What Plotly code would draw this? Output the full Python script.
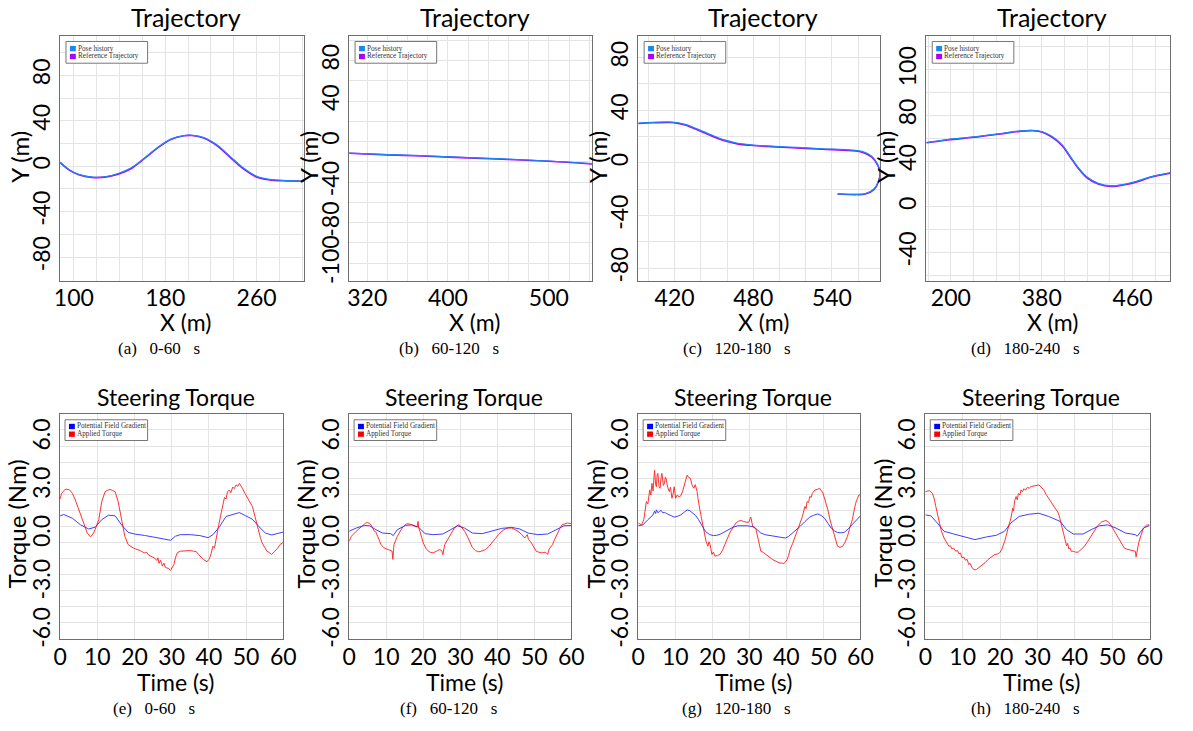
import plotly.graph_objects as go

FIG_W, FIG_H = 1193, 731

# ---------------- trajectory data (metres) ----------------
POSE_A_X = [88.0, 95.7, 104.3, 115.8, 127.3, 138.8, 150.4, 161.9, 173.4, 184.9,
            196.4, 203.6, 213.7, 225.2, 236.7, 248.2, 259.7, 271.2, 282.7, 301.4]
POSE_A_Y = [3.5, -2.9, -7.2, -9.6, -9.3, -6.4, -1.4, 7.2, 16.5, 23.8,
            27.0, 27.2, 25.2, 18.8, 8.7, -1.4, -8.7, -11.6, -12.5, -13.0]
REF_A_Y = [3.3, -3.2, -7.5, -9.8, -9.6, -7.0, -2.0, 6.8, 16.2, 23.6,
           26.8, 27.0, 24.8, 18.2, 8.0, -2.2, -9.4, -12.0, -12.8, -13.2]

POSE_B_X = [302.1, 340.0, 380.0, 420.0, 460.0, 500.0, 542.8]
POSE_B_Y = [-11.4, -12.8, -14.2, -15.8, -17.4, -19.2, -21.8]
REF_B_Y = [-11.6, -13.1, -14.5, -16.1, -17.7, -19.5, -22.1]

POSE_C_X = [392.3, 403.0, 418.0, 428.0, 438.0, 448.0, 458.0, 468.0, 478.0, 493.0,
            513.0, 533.0, 553.0, 563.0, 570.5, 575.0, 576.7, 575.5, 571.8, 565.5,
            558.0, 544.3]
POSE_C_Y = [30.3, 30.8, 31.0, 29.3, 25.5, 21.3, 17.5, 15.0, 13.8, 12.8,
            11.8, 10.8, 10.0, 8.8, 5.0, -1.3, -6.3, -13.8, -20.0, -23.3,
            -23.8, -23.5]
REF_C_Y = [30.0, 30.5, 30.7, 28.8, 24.9, 20.6, 16.9, 14.5, 13.4, 12.4,
           11.4, 10.4, 9.5, 8.2, 4.4, -1.8, -6.8, -14.2, -20.5, -23.6,
           -24.0, -23.6]

POSE_D_X = [278.4, 297.1, 320.2, 343.2, 360.5, 372.0, 380.7, 389.3, 398.0, 405.2,
            412.4, 419.6, 429.7, 441.2, 452.7, 464.3, 475.8, 493.1]
POSE_D_Y = [56.2, 58.8, 61.1, 64.0, 66.3, 66.9, 65.7, 61.4, 54.2, 44.1,
            34.0, 26.2, 20.5, 18.2, 19.6, 22.5, 26.2, 29.7]
REF_D_Y = [56.0, 58.5, 60.8, 63.7, 66.0, 66.6, 65.3, 60.8, 53.5, 43.4,
           33.3, 25.6, 20.0, 17.8, 19.2, 22.0, 25.8, 29.4]

# ---------------- steering torque data (time s, torque Nm) ----------------
E_GRADIENT = [(0.0, 0.66), (1.0, 0.74), (3.3, 0.51), (5.5, 0.10), (7.7, -0.16), (9.5, -0.04),
              (11.2, 0.42), (13.0, 0.70), (14.8, 0.66), (16.5, 0.10), (18.3, -0.37), (20.0, -0.47),
              (22.7, -0.56), (25.3, -0.65), (27.9, -0.78), (29.7, -0.86), (31.0, -0.61), (32.3, -0.51),
              (35.0, -0.51), (37.6, -0.57), (39.8, -0.70), (41.1, -0.51), (42.9, 0.00), (44.6, 0.62),
              (47.3, 0.82), (48.2, 0.86), (49.9, 0.66), (51.7, 0.45), (53.4, 0.00), (55.2, -0.41),
              (56.9, -0.53), (58.7, -0.45), (60.0, -0.35)]
E_APPLIED = [(0.0, 1.70), (0.4, 2.05), (1.1, 2.25), (1.6, 2.32), (2.5, 2.28), (3.3, 2.06), (4.0, 1.70),
             (4.7, 1.24), (5.4, 0.82), (6.0, 0.42), (6.7, 0.02), (7.3, -0.41), (8.2, -0.65), (9.0, -0.41),
             (9.7, -0.02), (10.4, 0.42), (11.2, 1.55), (12.1, 2.16), (12.8, 2.25), (13.4, 2.30),
             (14.1, 2.24), (14.8, 2.16), (15.6, 1.55), (16.5, 0.42), (17.4, -0.61), (18.3, -1.13),
             (19.0, -1.25), (19.6, -1.33), (20.3, -1.40), (20.9, -1.44), (21.5, -1.50), (22.1, -1.58),
             (22.7, -1.64), (23.3, -1.62), (23.8, -1.78), (24.4, -1.85), (25.0, -1.92), (25.5, -1.98),
             (26.0, -2.12), (26.3, -1.95), (26.6, -2.30), (27.0, -2.10), (27.5, -2.47), (27.9, -2.28),
             (28.3, -2.55), (28.8, -2.57), (29.2, -2.62), (29.7, -2.73), (30.2, -2.55), (30.6, -2.36),
             (31.0, -1.95), (31.5, -1.64), (32.3, -1.54), (33.2, -1.52), (34.1, -1.50), (35.0, -1.50),
             (35.9, -1.54), (36.6, -1.56), (37.2, -1.74), (37.9, -1.90), (38.5, -2.05), (39.5, -2.20),
             (40.0, -2.05), (40.4, -1.85), (41.1, -1.23), (41.5, -1.35), (42.0, -0.61), (42.6, 0.05),
             (43.3, 0.83), (43.8, 1.45), (44.2, 1.81), (44.6, 1.70), (45.0, 2.15), (45.5, 2.27),
             (45.9, 2.10), (46.4, 2.45), (46.8, 2.35), (47.3, 2.58), (47.8, 2.50), (48.2, 2.68),
             (48.6, 2.55), (49.0, 2.37), (49.7, 2.05), (50.4, 1.75), (51.0, 1.45), (51.7, 1.24),
             (52.5, 0.52), (53.0, 0.05), (53.4, -0.41), (53.9, -0.75), (54.3, -1.02), (54.8, -1.25),
             (55.2, -1.35), (55.6, -1.54), (56.2, -1.62), (56.8, -1.74), (57.3, -1.65), (57.8, -1.54),
             (58.5, -1.35), (59.1, -1.13), (60.0, -0.99)]

F_GRADIENT = [(0.0, -0.30), (1.9, -0.10), (4.1, 0.06), (5.5, 0.04), (7.2, -0.20), (9.0, -0.41),
              (11.2, -0.45), (11.9, -0.57), (13.0, -0.20), (15.2, 0.06), (16.9, 0.10), (18.7, -0.04),
              (20.5, -0.45), (22.7, -0.51), (25.3, -0.47), (27.1, -0.24), (29.3, 0.04), (31.1, -0.10),
              (33.3, -0.41), (35.9, -0.45), (38.6, -0.30), (41.2, -0.12), (43.9, -0.06), (46.1, -0.16),
              (48.3, -0.41), (50.9, -0.51), (53.6, -0.47), (55.8, -0.24), (58.0, 0.04), (60.0, 0.06)]
F_APPLIED = [(0.0, -0.92), (0.6, -0.61), (1.9, -0.30), (2.8, -0.10), (3.7, 0.10), (4.4, 0.20), (5.0, 0.25),
             (5.9, 0.10), (6.8, -0.30), (7.2, -0.35), (7.7, -0.61), (8.2, -0.85), (8.6, -1.13),
             (9.4, -1.33), (10.1, -1.40), (10.8, -1.44), (11.6, -1.54), (11.8, -2.05), (12.1, -1.13),
             (13.0, -0.61), (14.3, -0.10), (15.0, 0.08), (15.6, 0.17), (16.3, 0.15), (16.9, 0.10),
             (17.6, 0.05), (18.3, -0.04), (18.6, 0.32), (18.8, -0.10), (19.1, -0.30), (20.0, -1.02),
             (20.7, -1.35), (21.4, -1.54), (22.0, -1.62), (22.7, -1.64), (23.5, -1.55), (24.4, -1.44),
             (25.0, -1.50), (25.3, -1.76), (25.8, -1.13), (26.4, -0.90), (27.1, -0.61), (27.8, -0.35),
             (28.4, -0.10), (29.0, 0.02), (29.6, 0.10), (30.1, 0.02), (30.6, -0.10), (31.2, -0.30),
             (31.9, -0.61), (32.6, -0.98), (33.3, -1.33), (34.1, -1.50), (35.0, -1.58), (35.9, -1.52),
             (36.8, -1.44), (37.7, -1.25), (38.6, -1.02), (39.5, -0.75), (40.3, -0.51), (41.2, -0.30),
             (42.1, -0.16), (43.0, -0.10), (43.9, -0.10), (44.8, -0.18), (45.6, -0.30), (46.5, -0.48),
             (47.4, -0.72), (48.1, -0.51), (48.4, -0.80), (49.2, -1.02), (49.9, -1.30), (50.5, -1.54),
             (51.4, -1.62), (52.2, -1.64), (53.0, -1.60), (53.6, -1.74), (54.0, -1.40), (54.9, -1.13),
             (55.5, -0.80), (56.2, -0.41), (56.9, -0.12), (57.5, 0.10), (58.2, 0.18), (58.9, 0.21),
             (60.0, 0.17)]

G_GRADIENT = [(0.0, 0.04), (1.3, 0.10), (2.6, 0.42), (3.3, 0.55), (4.0, 0.72), (4.4, 0.95), (4.7, 0.80),
              (4.9, 1.03), (5.3, 0.85), (5.7, 0.93), (6.2, 1.00), (6.6, 0.85), (7.1, 0.87), (7.7, 0.80),
              (8.4, 0.72), (9.1, 0.62), (9.7, 0.58), (10.5, 0.62), (11.5, 0.72), (12.4, 0.88),
              (13.2, 1.03), (13.9, 0.98), (14.6, 0.87), (15.5, 0.68), (16.3, 0.42), (17.2, 0.05),
              (18.1, -0.30), (19.2, -0.50), (20.3, -0.57), (21.2, -0.55), (22.1, -0.49), (23.2, -0.35),
              (24.3, -0.20), (25.6, -0.05), (26.9, 0.04), (28.3, 0.05), (29.6, 0.04), (30.5, 0.00),
              (31.3, -0.04), (32.2, -0.22), (33.1, -0.41), (34.4, -0.52), (35.7, -0.57), (36.9, -0.61),
              (38.0, -0.65), (39.0, -0.69), (39.7, -0.72), (40.6, -0.62), (41.5, -0.45), (42.6, -0.22),
              (43.7, 0.00), (45.0, 0.30), (46.3, 0.58), (47.4, 0.70), (48.5, 0.78), (49.4, 0.68),
              (50.3, 0.51), (51.2, 0.20), (52.1, -0.10), (53.0, -0.28), (53.8, -0.37), (54.7, -0.40),
              (55.6, -0.37), (56.7, -0.15), (57.8, 0.10), (58.9, 0.38), (60.0, 0.66)]
G_APPLIED = [(0.0, 0.21), (0.9, 0.10), (1.5, 0.42), (1.9, 0.95), (2.2, 1.55), (2.6, 1.40), (3.1, 2.27),
             (3.4, 1.95), (3.7, 2.68), (4.0, 2.20), (4.4, 3.50), (4.7, 2.60), (4.9, 2.47), (5.1, 3.20),
             (5.3, 3.30), (5.6, 2.50), (5.9, 2.37), (6.2, 3.10), (6.4, 3.30), (6.8, 2.55), (7.1, 2.68),
             (7.3, 3.05), (7.5, 2.99), (8.0, 2.40), (8.4, 2.16), (8.7, 2.45), (9.1, 1.75), (9.4, 2.00),
             (9.7, 2.47), (10.1, 1.75), (10.5, 1.95), (11.0, 1.85), (11.5, 1.90), (12.0, 2.20),
             (12.4, 2.58), (12.8, 2.90), (13.2, 3.19), (13.6, 3.05), (14.1, 2.99), (14.5, 2.60),
             (15.0, 2.37), (15.4, 2.60), (15.9, 2.16), (16.1, 1.80), (16.3, 1.34), (16.6, 1.10),
             (17.0, 0.62), (17.7, -0.20), (18.3, -0.92), (18.8, -1.23), (19.1, -0.95), (19.4, -1.13),
             (19.9, -1.74), (20.3, -1.60), (20.7, -1.85), (21.4, -1.80), (22.1, -1.74), (22.8, -1.45),
             (23.4, -1.13), (24.0, -0.75), (24.7, -0.41), (25.6, -0.05), (26.5, 0.25), (27.1, 0.33),
             (27.8, 0.37), (28.5, 0.30), (29.1, 0.27), (29.8, 0.25), (30.4, 0.58), (30.7, 0.10),
             (30.9, 0.00), (31.3, -0.05), (31.8, -0.20), (32.4, -0.80), (33.1, -1.54), (33.8, -1.62),
             (34.4, -1.74), (35.3, -1.90), (36.2, -2.05), (37.1, -2.15), (38.0, -2.26), (38.7, -2.28),
             (39.3, -2.30), (39.8, -2.20), (40.2, -2.05), (40.6, -1.80), (41.0, -1.44), (41.7, -1.05),
             (42.4, -0.61), (43.0, -0.25), (43.7, 0.10), (44.3, 0.60), (45.0, 1.24), (45.3, 1.10),
             (45.6, 1.55), (46.0, 1.50), (46.3, 1.86), (46.7, 1.80), (47.0, 2.05), (47.7, 2.27),
             (48.3, 2.30), (49.0, 2.37), (49.9, 2.06), (50.5, 1.60), (51.2, 1.03), (51.8, 0.40),
             (52.5, -0.20), (53.1, -0.75), (53.8, -1.23), (54.5, -1.30), (55.2, -1.23), (55.8, -1.00),
             (56.5, -0.61), (57.1, -0.10), (57.8, 0.42), (58.3, 1.00), (58.7, 1.44), (59.2, 1.75),
             (59.6, 1.96), (60.0, 1.96)]

H_GRADIENT = [(0.0, 0.72), (1.5, 0.66), (3.2, 0.21), (5.0, -0.30), (7.6, -0.47), (10.2, -0.65),
              (13.3, -0.82), (16.4, -0.65), (19.0, -0.55), (21.2, -0.30), (22.9, 0.21), (25.1, 0.62),
              (27.8, 0.76), (30.4, 0.82), (33.0, 0.62), (36.1, 0.31), (37.8, -0.20), (39.6, -0.47),
              (42.2, -0.47), (44.4, -0.20), (46.6, 0.04), (48.8, 0.10), (51.0, -0.10), (53.6, -0.41),
              (56.2, -0.51), (56.7, -0.61), (58.4, -0.10), (60.0, 0.06)]
H_APPLIED = [(0.0, 2.16), (0.5, 2.20), (1.1, 2.23), (1.9, 2.06), (2.4, 1.70), (2.8, 1.24), (3.3, 0.70),
             (3.7, 0.21), (4.3, -0.30), (5.0, -0.72), (5.4, -0.90), (5.8, -1.05), (6.3, -1.23),
             (6.7, -1.20), (7.1, -1.40), (7.6, -1.35), (8.1, -1.54), (8.6, -1.50), (9.0, -1.70),
             (9.4, -1.65), (9.8, -1.95), (10.3, -1.90), (10.7, -2.10), (11.2, -2.05), (11.6, -2.36),
             (12.0, -2.30), (12.4, -2.52), (12.9, -2.67), (13.3, -2.70), (13.7, -2.67), (14.4, -2.55),
             (15.1, -2.42), (16.0, -2.25), (16.8, -2.05), (17.7, -1.90), (18.6, -1.74), (19.2, -1.72),
             (19.9, -1.64), (20.4, -1.45), (20.8, -1.23), (21.2, -0.95), (21.6, -0.61), (22.0, -0.20),
             (22.5, 0.21), (22.8, 0.40), (23.1, 0.95), (23.4, 1.14), (23.6, 0.95), (23.9, 1.60),
             (24.3, 1.86), (24.6, 1.65), (24.9, 2.05), (25.3, 1.95), (25.6, 2.27), (26.0, 2.15),
             (26.4, 2.35), (26.8, 2.25), (27.3, 2.43), (27.8, 2.38), (28.3, 2.48), (29.1, 2.51),
             (29.8, 2.55), (30.4, 2.58), (31.0, 2.45), (31.7, 2.27), (32.3, 2.00), (33.0, 1.75),
             (33.6, 1.50), (34.3, 1.24), (35.0, 1.05), (35.6, 0.83), (36.0, 0.50), (36.5, 0.10),
             (37.0, -0.45), (37.4, -0.82), (37.8, -1.20), (38.1, -1.05), (38.4, -1.40), (38.7, -1.33),
             (39.1, -1.55), (39.6, -1.54), (40.2, -1.60), (40.9, -1.60), (41.7, -1.45), (42.6, -1.23),
             (43.5, -0.92), (44.4, -0.61), (45.2, -0.28), (46.1, 0.04), (47.2, 0.28), (48.3, 0.37),
             (49.0, 0.28), (49.6, 0.10), (50.5, -0.25), (51.4, -0.61), (52.3, -1.00), (53.2, -1.33),
             (54.0, -1.42), (54.9, -1.48), (55.5, -1.50), (56.2, -1.54), (56.4, -1.91), (56.7, -1.45),
             (57.1, -1.02), (57.7, -0.55), (58.4, -0.10), (59.2, 0.08), (60.0, 0.10)]

# ---------------- axis ticks ----------------
TORQUE_TICKS = {-6: "-6.0", -3: "-3.0", 0: "0.0", 3: "3.0", 6: "6.0"}
TIME_TICKS = {0: "0", 10: "10", 20: "20", 30: "30", 40: "40", 50: "50", 60: "60"}

TOP_PANELS = [
    dict(pose=(POSE_A_X, POSE_A_Y), ref=(POSE_A_X, REF_A_Y),
         xlabels={100: "100", 180: "180", 260: "260"},
         ylabels={-80: "-80", -40: "-40", 0: "0", 40: "40", 80: "80"},
         caption="(a)\u2002\u00a00-60\u2002\u00a0s"),
    dict(pose=(POSE_B_X, POSE_B_Y), ref=(POSE_B_X, REF_B_Y),
         xlabels={320: "320", 400: "400", 500: "500"},
         ylabels={-120: "-100", -80: "-80", -40: "-40", 0: "0", 40: "40", 80: "80"},
         caption="(b)\u2002\u00a060-120\u2002\u00a0s"),
    dict(pose=(POSE_C_X, POSE_C_Y), ref=(POSE_C_X, REF_C_Y),
         xlabels={420: "420", 480: "480", 540: "540"},
         ylabels={-80: "-80", -40: "-40", 0: "0", 40: "40", 80: "80"},
         caption="(c)\u2002\u00a0120-180\u2002\u00a0s"),
    dict(pose=(POSE_D_X, POSE_D_Y), ref=(POSE_D_X, REF_D_Y),
         xlabels={300: "200", 380: "380", 460: "460"},
         ylabels={-40: "-40", 0: "0", 40: "40", 80: "80", 120: "100"},
         caption="(d)\u2002\u00a0180-240\u2002\u00a0s"),
]
BOTTOM_PANELS = [
    dict(grad=E_GRADIENT, applied=E_APPLIED, caption="(e)\u2002\u00a00-60\u2002\u00a0s"),
    dict(grad=F_GRADIENT, applied=F_APPLIED, caption="(f)\u2002\u00a060-120\u2002\u00a0s"),
    dict(grad=G_GRADIENT, applied=G_APPLIED, caption="(g)\u2002\u00a0120-180\u2002\u00a0s"),
    dict(grad=H_GRADIENT, applied=H_APPLIED, caption="(h)\u2002\u00a0180-240\u2002\u00a0s"),
]

# ---------------- layout geometry (pixels) ----------------
TOP_X_PX = [(54, 302), (348, 595), (642, 888), (935, 1183)]
TOP_RANGES = [((88, 301.4), (-100.6, 115)), ((302.1, 542.8), (-137.2, 104.7)),
              ((392.25, 576.75), (-89.25, 96.75)), ((278.4, 493.1), (-64.6, 149.9))]
TOP_Y_PX = (36, 284)
BOT_X_PX = [(54, 281), (348, 574), (642, 868), (934, 1162)]
BOT_Y_PX = (419, 647)
TOP_CAPTION_X = [155, 450, 742, 1036]
BOT_CAPTION_X = [150, 449, 742, 1036]

SANS = "Lato, 'Open Sans', sans-serif"
SERIF = "'Liberation Serif', 'DejaVu Serif', serif"
GRID = "#e4e4e4"
FRAME = "#6e6e6e"
POSE_COLOR = "#1a86f5"
REF_COLOR = "#aa00ff"
GRAD_COLOR = "#0000ff"
APPLIED_COLOR = "#ff0000"


def px_x(p):
    return p / FIG_W


def px_y(p):
    return 1 - p / FIG_H


def grid_ticks(lo, hi, step, labels):
    vals = []
    v = lo
    while v <= hi + 1e-9:
        vals.append(v)
        v += step
    return vals, [labels.get(v, "") for v in vals]


fig = go.Figure()
layout = dict(width=FIG_W, height=FIG_H, margin=dict(l=0, r=0, t=0, b=0),
              paper_bgcolor="white", plot_bgcolor="white", showlegend=False)
annotations = []
shapes = []


def axis_style(**kw):
    base = dict(showgrid=True, gridcolor=GRID, gridwidth=1, zeroline=False,
                showline=True, mirror=True, linecolor=FRAME, linewidth=1,
                ticks="", tickfont=dict(family=SANS, size=23, color="black"),
                fixedrange=True)
    base.update(kw)
    return base


def add_text(text, x, y, size, family=SANS, angle=0, xanchor="center", color="black"):
    annotations.append(dict(text=text, x=px_x(x), y=px_y(y), xref="paper", yref="paper",
                            showarrow=False, xanchor=xanchor, yanchor="middle",
                            textangle=angle, borderpad=0,
                            font=dict(family=family, size=size, color=color)))


def add_legend(left, top, width, height, entries, row_y):
    shapes.append(dict(type="rect", xref="paper", yref="paper",
                       x0=px_x(left), x1=px_x(left + width), y0=px_y(top + height), y1=px_y(top),
                       line=dict(color="#777777", width=1), fillcolor="white", layer="above"))
    for (label, color), cy in zip(entries, row_y):
        shapes.append(dict(type="rect", xref="paper", yref="paper",
                           x0=px_x(left + 4), x1=px_x(left + 10),
                           y0=px_y(cy + 2.7), y1=px_y(cy - 2.7),
                           line=dict(width=0), fillcolor=color, layer="above"))
        add_text(label, left + 11, cy, 7.2, family=SERIF, xanchor="left", color="#333333")


# trajectory panels
for i, panel in enumerate(TOP_PANELS):
    n = i + 1
    (x0, x1), (y0, y1) = TOP_X_PX[i], TOP_Y_PX
    (xr, yr) = TOP_RANGES[i]
    xs = "" if n == 1 else str(n)
    xv, xt = grid_ticks(20 * (int(xr[0] // 20) + 1), xr[1], 20, panel["xlabels"])
    yv, yt = grid_ticks(20 * (int(yr[0] // 20) + 1), yr[1], 20, panel["ylabels"])
    layout["xaxis" + xs] = axis_style(domain=[px_x(x0), px_x(x1)], range=list(xr),
                                      anchor="y" + xs, tickvals=xv, ticktext=xt,
                                      ticklabelstandoff=-3)
    layout["yaxis" + xs] = axis_style(domain=[px_y(y1), px_y(y0)], range=list(yr),
                                      anchor="x" + xs, tickvals=yv, ticktext=yt,
                                      tickangle=-90)
    fig.add_trace(go.Scatter(x=panel["ref"][0], y=panel["ref"][1], mode="lines",
                             line=dict(color=REF_COLOR, width=1.6, shape="spline"),
                             xaxis="x" + xs, yaxis="y" + xs, hoverinfo="skip",
                             name="Reference Trajectory"))
    fig.add_trace(go.Scatter(x=panel["pose"][0], y=panel["pose"][1], mode="lines",
                             line=dict(color=POSE_COLOR, width=1.2, shape="spline"),
                             xaxis="x" + xs, yaxis="y" + xs, hoverinfo="skip",
                             name="Pose history"))
    cx = (x0 + x1) / 2 + 4
    add_text("Trajectory", cx, 17, 25)
    add_text("X (m)", cx, 326, 23)
    add_text("Y (m)", x0 - 42, (y0 + y1) / 2 - 1, 24, angle=-90)
    add_text(panel["caption"], TOP_CAPTION_X[i], 353, 17, family=SERIF)
    add_legend(x0 + 6, 42, 83, 22, [("Pose history", POSE_COLOR),
                                    ("Reference Trajectory", REF_COLOR)], [49.2, 57.2])

# steering torque panels
for i, panel in enumerate(BOTTOM_PANELS):
    n = i + 5
    xs = str(n)
    (x0, x1), (y0, y1) = BOT_X_PX[i], BOT_Y_PX
    xv, xt = grid_ticks(0, 60, 10, TIME_TICKS)
    yv, yt = grid_ticks(-7, 7, 1, TORQUE_TICKS)
    layout["xaxis" + xs] = axis_style(domain=[px_x(x0), px_x(x1)], range=[0, 60],
                                      anchor="y" + xs, tickvals=xv, ticktext=xt,
                                      ticklabelstandoff=-3)
    layout["yaxis" + xs] = axis_style(domain=[px_y(y1), px_y(y0)], range=[-7, 7],
                                      anchor="x" + xs, tickvals=yv, ticktext=yt,
                                      tickangle=-90, ticklabelshift=8)
    t_g, v_g = zip(*panel["grad"])
    t_a, v_a = zip(*panel["applied"])
    fig.add_trace(go.Scatter(x=t_g, y=v_g, mode="lines", opacity=0.75,
                             line=dict(color=GRAD_COLOR, width=1),
                             xaxis="x" + xs, yaxis="y" + xs, hoverinfo="skip",
                             name="Potential Field Gradient"))
    fig.add_trace(go.Scatter(x=t_a, y=v_a, mode="lines", opacity=0.8,
                             line=dict(color=APPLIED_COLOR, width=1),
                             xaxis="x" + xs, yaxis="y" + xs, hoverinfo="skip",
                             name="Applied Torque"))
    cx = (x0 + x1) / 2 + 4
    add_text("Steering Torque", cx, 402, 23)
    add_text("Time (s)", cx, 690, 23)
    add_text("Torque (Nm)", x0 - 44, (y0 + y1) / 2 - 3, 24, angle=-90)
    add_text(panel["caption"], BOT_CAPTION_X[i], 717, 17, family=SERIF)
    add_legend(x0 + 5, 425, 84, 21, [("Potential Field Gradient", GRAD_COLOR),
                                     ("Applied Torque", APPLIED_COLOR)], [431.8, 439.6])

layout["annotations"] = annotations
layout["shapes"] = shapes
fig.update_layout(**layout)
fig.write_html("out.html", config={"displayModeBar": False})
